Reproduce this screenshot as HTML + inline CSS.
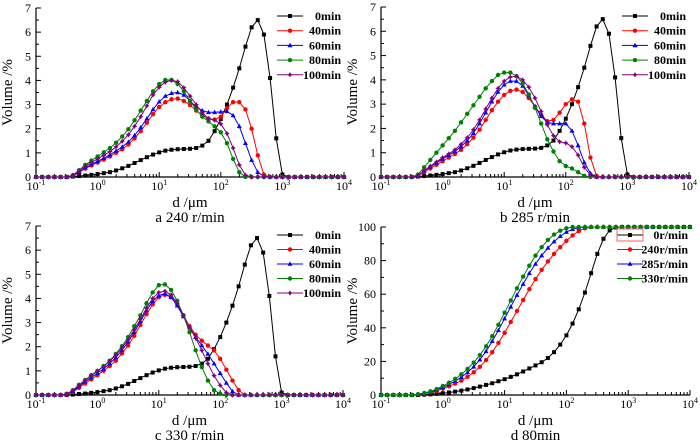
<!DOCTYPE html>
<html><head><meta charset="utf-8">
<style>
body{margin:0;background:#fff;}
svg{display:block;}
svg text{font-family:"Liberation Serif","Times New Roman",serif;}
</style></head>
<body>
<svg id="chart" width="700" height="444" viewBox="0 0 700 444" xmlns="http://www.w3.org/2000/svg" font-family="Liberation Serif, serif"></svg>
<script>
// x grid: log10(d) from -1 to 4 step 0.1 (index i -> -1 + 0.1*i); values beyond array length are 0
const xStartLog = -1;
const xStepLog = 0.1;
const black0 = [0,0,0,0,0,0,0.02,0.04,0.06,0.09,0.12,0.16,0.2,0.27,0.36,0.46,0.58,0.7,0.82,0.93,1.02,1.09,1.13,1.15,1.16,1.17,1.2,1.3,1.5,1.9,2.4,3.0,3.7,4.5,5.4,6.2,6.5,5.9,4.1,1.6,0.1];
const a40 = [0,0,0,0,0,0,0.05,0.2,0.35,0.48,0.6,0.72,0.85,1.0,1.15,1.35,1.6,1.9,2.25,2.6,2.9,3.1,3.22,3.25,3.15,2.98,2.75,2.55,2.42,2.38,2.5,2.85,3.1,3.1,2.8,2.0,0.9,0.1];
const a60 = [0,0,0,0,0,0,0.05,0.2,0.38,0.52,0.65,0.78,0.92,1.08,1.25,1.45,1.72,2.05,2.42,2.8,3.12,3.35,3.47,3.5,3.4,3.15,2.9,2.75,2.68,2.68,2.7,2.72,2.55,2.1,1.4,0.7,0.2,0.02];
const a80 = [0,0,0,0,0,0,0.08,0.28,0.5,0.68,0.85,1.02,1.2,1.42,1.68,1.98,2.35,2.75,3.15,3.55,3.85,4.02,4.02,3.85,3.55,3.15,2.8,2.5,2.3,2.1,1.85,1.4,0.75,0.2];
const a100 = [0,0,0,0,0,0,0.07,0.25,0.45,0.6,0.75,0.9,1.05,1.25,1.48,1.75,2.1,2.5,2.95,3.4,3.72,3.93,4.0,3.95,3.7,3.35,3.0,2.65,2.42,2.35,2.2,1.8,1.2,0.5,0.08];
const b40 = [0,0,0,0,0,0,0.05,0.2,0.35,0.5,0.65,0.8,0.95,1.12,1.35,1.62,1.95,2.35,2.75,3.1,3.38,3.55,3.6,3.5,3.25,2.9,2.55,2.3,2.35,2.65,3.0,3.2,3.1,2.2,0.8,0.05];
const b60 = [0,0,0,0,0,0,0.06,0.25,0.42,0.58,0.75,0.9,1.05,1.25,1.5,1.8,2.2,2.65,3.1,3.5,3.8,3.95,3.95,3.75,3.35,2.9,2.5,2.25,2.2,2.2,2.2,1.9,1.3,0.6,0.15];
const b80 = [0,0,0,0,0,0,0.1,0.4,0.7,1.0,1.3,1.6,1.9,2.25,2.6,2.95,3.3,3.65,3.95,4.2,4.3,4.3,4.15,3.85,3.4,2.85,2.2,1.55,1.05,0.65,0.45,0.35,0.2,0.05];
const b100 = [0,0,0,0,0,0,0.06,0.26,0.45,0.62,0.8,0.95,1.12,1.35,1.62,1.95,2.35,2.8,3.25,3.65,3.95,4.12,4.15,4.0,3.7,3.25,2.7,2.15,1.7,1.45,1.4,1.25,0.9,0.4,0.08];
const c40 = [0,0,0,0,0,0.02,0.12,0.3,0.48,0.65,0.82,1.0,1.2,1.42,1.72,2.05,2.45,2.9,3.35,3.75,4.05,4.15,4.05,3.75,3.3,2.85,2.5,2.25,2.05,1.85,1.5,1.05,0.6,0.2];
const c60 = [0,0,0,0,0,0.03,0.15,0.35,0.55,0.72,0.9,1.08,1.3,1.55,1.85,2.2,2.6,3.05,3.5,3.88,4.12,4.2,4.05,3.7,3.25,2.8,2.4,2.05,1.7,1.3,0.9,0.5,0.15];
const c80 = [0,0,0,0,0,0.05,0.2,0.42,0.62,0.82,1.0,1.2,1.42,1.7,2.02,2.4,2.85,3.3,3.8,4.25,4.55,4.58,4.35,3.9,3.3,2.6,1.85,1.15,0.6,0.2,0.05];
const c100 = [0,0,0,0,0,0.04,0.18,0.4,0.6,0.8,0.98,1.18,1.4,1.65,1.95,2.3,2.7,3.15,3.6,4.0,4.25,4.3,4.15,3.8,3.3,2.8,2.35,1.85,1.3,0.8,0.4,0.1];
const d0 = [0,0,0,0,0,0,0,0.2,0.4,0.7,1.0,1.5,2.0,2.6,3.3,4.1,5.0,6.0,7.0,8.2,9.4,10.8,12.3,14.0,15.8,17.6,19.5,22,25.5,30,35.5,42.5,51,61,72.5,84,93,98,99.7,100,100,100,100,100,100,100,100,100,100,100,100];
const d240 = [0,0,0,0,0,0,0.3,0.8,1.5,2.5,3.8,5.2,6.8,8.6,10.8,13.5,16.8,20.8,25.5,31,37,43.5,50,56.5,63,69,74.5,79.5,84,88,91.8,95,97.5,99.2,100,100,100,100,100,100,100,100,100,100,100,100,100,100,100,100,100];
const d285 = [0,0,0,0,0,0,0.4,1.0,1.8,3.0,4.6,6.3,8.3,10.6,13.4,16.8,21,26,32,38.5,45.5,52.5,59.5,66,72.5,78,83,87.5,91.3,94.5,97,98.7,99.6,100,100,100,100,100,100,100,100,100,100,100,100,100,100,100,100,100,100];
const d330 = [0,0,0,0,0,0,0.5,1.2,2.2,3.5,5.3,7.3,9.6,12.3,15.5,19.3,23.8,29,35,41.8,49,56.3,63.5,70.5,77,83,88,92.3,95.5,97.8,99.2,100,100,100,100,100,100,100,100,100,100,100,100,100,100,100,100,100,100,100,100];
const timeLabels = ["0min","40min","60min","80min","100min"];
const speedLabels = ["0r/min","240r/min","285r/min","330r/min"];
const yTicks7 = [0,1,2,3,4,5,6,7];
const yTicks100 = [0,20,40,60,80,100];
const xTickExp = [-1,0,1,2,3,4];

const NS="http://www.w3.org/2000/svg";
const svg=document.getElementById('chart');
const FONT='"Liberation Serif", serif';
function mk(tag,attrs,parent){const e=document.createElementNS(NS,tag);for(const k in attrs)e.setAttribute(k,attrs[k]);if(tag==='text')e.setAttribute('font-family',FONT);(parent||svg).appendChild(e);return e;}

const styles=[
 {c:'#000',m:'square'},{c:'#ff0000',m:'circle'},{c:'#0000ff',m:'tri'},{c:'#008000',m:'circle'},{c:'#800080',m:'star'}
];

function marker(g,type,x,y,c){
  let e;
  if(type==='square'){e=mk('rect',{x:x-2,y:y-2,width:4,height:4,fill:c},g);}
  else if(type==='circle'){e=mk('circle',{cx:x,cy:y,r:2.2,fill:c},g);}
  else if(type==='tri'){e=mk('polygon',{points:`${x},${y-2.6} ${x-2.5},${y+1.8} ${x+2.5},${y+1.8}`,fill:c},g);}
  else {e=mk('polygon',{points:`${x},${y-2.7} ${x+1},${y-1} ${x+2.7},${y} ${x+1},${y+1} ${x},${y+2.7} ${x-1},${y+1} ${x-2.7},${y} ${x-1},${y-1}`,fill:c},g);}
  
  
}

function panel(p){
  const g=mk('g',{});
  
  
  const xs=l=>p.L+(l+1)/5*(p.R-p.L);
  const ys=v=>p.B-v/p.ymax*(p.B-p.T);
  const ax=mk('line',{x1:p.L,y1:p.B,x2:p.R,y2:p.B,stroke:'#000','stroke-width':1.2},g);
  
  const ay=mk('line',{x1:p.L,y1:p.T,x2:p.L,y2:p.B,stroke:'#000','stroke-width':1.2},g);
  
  xTickExp.forEach(ex=>{
    const x=xs(ex);
    mk('line',{x1:x,y1:p.B,x2:x,y2:p.B-5,stroke:'#000'},g);
    const t=mk('text',{x:x,y:p.B+13,'font-size':12,'text-anchor':'middle'},g);
    
    t.innerHTML=`10<tspan dy="-5" font-size="8">${ex}</tspan>`;
    if(ex<4){for(let k=2;k<10;k++){const xm=xs(ex+Math.log10(k));mk('line',{x1:xm,y1:p.B,x2:xm,y2:p.B-3,stroke:'#000'},g);}}
  });
  p.yticks.forEach((v,i)=>{
    const y=ys(v);
    mk('line',{x1:p.L,y1:y,x2:p.L+5,y2:y,stroke:'#000'},g);
    if(i<p.yticks.length-1){const ym=ys(v+(p.yticks[1]-p.yticks[0])/2);mk('line',{x1:p.L,y1:ym,x2:p.L+3,y2:ym,stroke:'#000'},g);}
    const t=mk('text',{x:p.L-5,y:y+4,'font-size':12,'text-anchor':'end'},g);
    
    t.textContent=v;
  });
  const yt=mk('text',{x:0,y:0,'font-size':15,'text-anchor':'middle',transform:`translate(${p.L-24},${(p.T+p.B)/2}) rotate(-90)`},g);
  
  yt.textContent='Volume /%';
  const xt=mk('text',{x:(p.L+p.R)/2,y:p.B+30,'font-size':15,'text-anchor':'middle'},g);
  
  xt.textContent='d /μm';
  const cap=mk('text',{x:(p.L+p.R)/2,y:p.B+45,'font-size':15,'text-anchor':'middle'},g);
  
  cap.textContent=p.caption;
  p.series.forEach((s,si)=>{
    const st=styles[p.styleIdx[si]];
    const sg=mk('g',{},g);
    
    
    const n=51;const pts=[];
    for(let i=0;i<n;i++){const v=i<s.length?s[i]:(p.fill100&&s.length?s[s.length-1]:0);pts.push([xs(xStartLog+i*xStepLog),ys(v)]);}
    const pl=mk('polyline',{points:pts.map(q=>q.join(',')).join(' '),fill:'none',stroke:st.c,'stroke-width':1},sg);
    
    pts.forEach(q=>marker(sg,st.m,q[0],q[1],st.c));
  });
  const lg=mk('g',{},g);
  
  p.labels.forEach((lab,i)=>{
    const st=styles[p.styleIdx[i]];
    const y=p.legY+i*p.legDy;
    const eg=mk('g',{},lg);
    
    mk('line',{x1:p.legX,y1:y,x2:p.legX+26,y2:y,stroke:st.c,'stroke-width':1},eg);
    marker(eg,st.m,p.legX+13,y,st.c);
    const t=mk('text',{x:p.legTx,y:y+4,'font-size':12,'text-anchor':'end','font-weight':'bold'},eg);
    t.textContent=lab;
  });
  if(p.redBox){const rb=mk('rect',{x:p.legX,y:p.legY-6,width:26,height:12,fill:'none',stroke:'#ff6060','stroke-width':1},lg);}
}

panel({name:'panel-a',L:36,R:344,T:8,B:177,ymax:7,yticks:yTicks7,series:[black0,a40,a60,a80,a100],labels:timeLabels,styleIdx:[0,1,2,3,4],caption:'a  240 r/min',legX:277,legTx:341,legY:16,legDy:14.7});
panel({name:'panel-b',L:381,R:689,T:7,B:177,ymax:7,yticks:yTicks7,series:[black0,b40,b60,b80,b100],labels:timeLabels,styleIdx:[0,1,2,3,4],caption:'b  285 r/min',legX:622,legTx:686,legY:16,legDy:14.7});
panel({name:'panel-c',L:36,R:343,T:226,B:395,ymax:7,yticks:yTicks7,series:[black0,c40,c60,c80,c100],labels:timeLabels,styleIdx:[0,1,2,3,4],caption:'c  330 r/min',legX:277,legTx:341,legY:235,legDy:14.5});
panel({name:'panel-d',L:381,R:690,T:227,B:395,ymax:100,yticks:yTicks100,series:[d0,d240,d285,d330],labels:speedLabels,styleIdx:[0,1,2,3],caption:'d  80min',legX:617,legTx:688,legY:235,legDy:14.5,redBox:true,fill100:true});
</script>
</body></html>
